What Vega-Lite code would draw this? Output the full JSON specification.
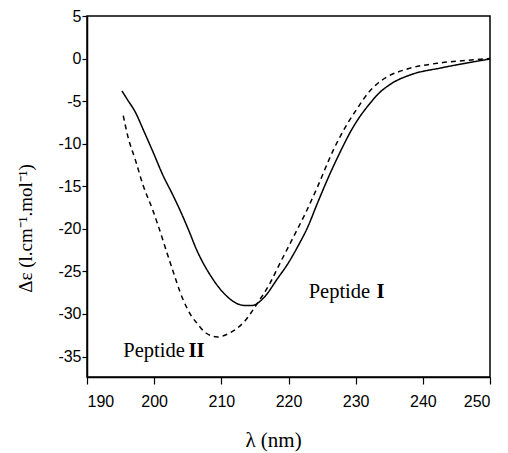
{
  "$schema": "https://vega.github.io/schema/vega-lite/v6.json",
  "width": 403,
  "height": 361,
  "autosize": {"type": "none"},
  "padding": {"left": 87, "top": 16, "right": 18, "bottom": 76},
  "background": "white",
  "config": {
    "view": {"stroke": "black", "strokeWidth": 1.5},
    "axis": {
      "grid": false,
      "domainColor": "black",
      "domainWidth": 1.5,
      "tickColor": "black",
      "tickWidth": 1.2,
      "labelColor": "black",
      "titleColor": "black",
      "labelFont": "Liberation Sans",
      "titleFont": "Liberation Serif",
      "labelFontSize": 16,
      "titleFontSize": 19,
      "titleFontWeight": "normal"
    }
  },
  "datasets": {
    "cd": [
      {"wavelength": 195.2, "de": -3.8, "peptide": "I"},
      {"wavelength": 196.0, "de": -4.8, "peptide": "I"},
      {"wavelength": 197.2, "de": -6.3, "peptide": "I"},
      {"wavelength": 198.4, "de": -8.4, "peptide": "I"},
      {"wavelength": 199.9, "de": -11.1, "peptide": "I"},
      {"wavelength": 201.3, "de": -13.7, "peptide": "I"},
      {"wavelength": 202.7, "de": -15.9, "peptide": "I"},
      {"wavelength": 203.9, "de": -17.9, "peptide": "I"},
      {"wavelength": 205.0, "de": -19.9, "peptide": "I"},
      {"wavelength": 206.4, "de": -22.6, "peptide": "I"},
      {"wavelength": 208.4, "de": -25.5, "peptide": "I"},
      {"wavelength": 210.3, "de": -27.5, "peptide": "I"},
      {"wavelength": 212.4, "de": -28.8, "peptide": "I"},
      {"wavelength": 213.5, "de": -29.0, "peptide": "I"},
      {"wavelength": 214.6, "de": -29.0, "peptide": "I"},
      {"wavelength": 216.3, "de": -28.1, "peptide": "I"},
      {"wavelength": 218.4, "de": -25.8, "peptide": "I"},
      {"wavelength": 219.9, "de": -24.1, "peptide": "I"},
      {"wavelength": 221.5, "de": -21.9, "peptide": "I"},
      {"wavelength": 222.8, "de": -19.9, "peptide": "I"},
      {"wavelength": 224.3, "de": -17.0, "peptide": "I"},
      {"wavelength": 225.8, "de": -14.2, "peptide": "I"},
      {"wavelength": 227.8, "de": -10.8, "peptide": "I"},
      {"wavelength": 229.3, "de": -8.5, "peptide": "I"},
      {"wavelength": 230.3, "de": -7.2, "peptide": "I"},
      {"wavelength": 232.2, "de": -5.2, "peptide": "I"},
      {"wavelength": 233.3, "de": -4.2, "peptide": "I"},
      {"wavelength": 235.2, "de": -3.0, "peptide": "I"},
      {"wavelength": 238.2, "de": -1.9, "peptide": "I"},
      {"wavelength": 242.7, "de": -1.1, "peptide": "I"},
      {"wavelength": 246.7, "de": -0.5, "peptide": "I"},
      {"wavelength": 250.0, "de": -0.05, "peptide": "I"},
      {"wavelength": 195.4, "de": -6.7, "peptide": "II"},
      {"wavelength": 196.1, "de": -9.2, "peptide": "II"},
      {"wavelength": 197.2, "de": -11.9, "peptide": "II"},
      {"wavelength": 198.4, "de": -15.0, "peptide": "II"},
      {"wavelength": 199.7, "de": -17.6, "peptide": "II"},
      {"wavelength": 200.5, "de": -19.4, "peptide": "II"},
      {"wavelength": 202.4, "de": -24.0, "peptide": "II"},
      {"wavelength": 204.3, "de": -28.3, "peptide": "II"},
      {"wavelength": 205.6, "de": -30.3, "peptide": "II"},
      {"wavelength": 206.4, "de": -31.1, "peptide": "II"},
      {"wavelength": 207.5, "de": -32.1, "peptide": "II"},
      {"wavelength": 209.4, "de": -32.7, "peptide": "II"},
      {"wavelength": 211.3, "de": -32.2, "peptide": "II"},
      {"wavelength": 213.3, "de": -31.0, "peptide": "II"},
      {"wavelength": 215.4, "de": -28.7, "peptide": "II"},
      {"wavelength": 217.3, "de": -26.3, "peptide": "II"},
      {"wavelength": 218.5, "de": -24.4, "peptide": "II"},
      {"wavelength": 220.7, "de": -21.0, "peptide": "II"},
      {"wavelength": 222.5, "de": -18.2, "peptide": "II"},
      {"wavelength": 224.3, "de": -15.1, "peptide": "II"},
      {"wavelength": 226.7, "de": -10.7, "peptide": "II"},
      {"wavelength": 228.8, "de": -7.6, "peptide": "II"},
      {"wavelength": 230.2, "de": -5.9, "peptide": "II"},
      {"wavelength": 231.8, "de": -4.1, "peptide": "II"},
      {"wavelength": 233.3, "de": -2.9, "peptide": "II"},
      {"wavelength": 234.8, "de": -2.1, "peptide": "II"},
      {"wavelength": 237.8, "de": -1.2, "peptide": "II"},
      {"wavelength": 242.7, "de": -0.5, "peptide": "II"},
      {"wavelength": 246.7, "de": -0.2, "peptide": "II"},
      {"wavelength": 250.0, "de": 0.0, "peptide": "II"}
    ],
    "labels": [
      {"wavelength": 223.0, "de": -28.1, "text": "Peptide", "bold": false},
      {"wavelength": 233.1, "de": -28.1, "text": "I", "bold": true},
      {"wavelength": 195.4, "de": -35.0, "text": "Peptide", "bold": false},
      {"wavelength": 205.1, "de": -35.0, "text": "II", "bold": true}
    ]
  },
  "layer": [
    {
      "data": {"name": "cd"},
      "mark": {"type": "line", "color": "black", "strokeWidth": 1.5, "interpolate": "monotone", "clip": true},
      "encoding": {
        "x": {
          "field": "wavelength",
          "type": "quantitative",
          "scale": {"domain": [190, 250], "nice": false, "zero": false},
          "axis": {
            "title": "λ (nm)",
            "titleFontSize": 21,
            "values": [190, 195, 200, 205, 210, 215, 220, 225, 230, 235, 240, 245, 250],
            "labelExpr": "datum.value % 10 === 0 ? datum.label : ''",
            "tickSize": {"condition": {"test": "datum.value % 10 === 0", "value": 7}, "value": 4},
            "labelPadding": 9,
            "titleX": 186,
            "titleY": 63,
            "titleAlign": "center",
            "titleBaseline": "middle"
          }
        },
        "y": {
          "field": "de",
          "type": "quantitative",
          "scale": {"domain": [-37.4, 5], "nice": false, "zero": false},
          "axis": {
            "title": "Δε (l.cm⁻¹.mol⁻¹)",
            "values": [-35, -32.5, -30, -27.5, -25, -22.5, -20, -17.5, -15, -12.5, -10, -7.5, -5, -2.5, 0, 2.5, 5],
            "labelExpr": "datum.value % 5 === 0 ? '' + datum.value : ''",
            "tickSize": {"condition": {"test": "datum.value % 5 === 0", "value": 5}, "value": 3},
            "labelPadding": 1,
            "titleX": -62,
            "titleY": 212,
            "titleAngle": -90,
            "titleAlign": "center",
            "titleBaseline": "middle"
          }
        },
        "strokeDash": {
          "field": "peptide",
          "type": "nominal",
          "scale": {"domain": ["I", "II"], "range": [[1, 0], [5, 4]]},
          "legend": null
        }
      }
    },
    {
      "data": {"name": "labels"},
      "transform": [{"filter": "!datum.bold"}],
      "mark": {"type": "text", "font": "Liberation Serif", "fontSize": 20.5, "align": "left", "baseline": "alphabetic", "color": "black"},
      "encoding": {
        "x": {"field": "wavelength", "type": "quantitative"},
        "y": {"field": "de", "type": "quantitative"},
        "text": {"field": "text"}
      }
    },
    {
      "data": {"name": "labels"},
      "transform": [{"filter": "datum.bold"}],
      "mark": {"type": "text", "font": "Liberation Serif", "fontSize": 20.5, "fontWeight": "bold", "align": "left", "baseline": "alphabetic", "color": "black"},
      "encoding": {
        "x": {"field": "wavelength", "type": "quantitative"},
        "y": {"field": "de", "type": "quantitative"},
        "text": {"field": "text"}
      }
    }
  ]
}
